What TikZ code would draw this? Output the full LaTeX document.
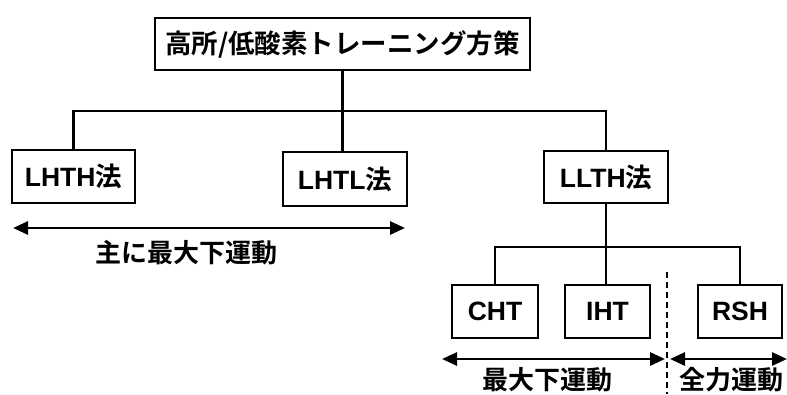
\documentclass[tikz,border=0pt]{standalone}
\usepackage{fontspec}
\setmainfont{Noto Sans CJK JP}[BoldFont={Noto Sans CJK JP Bold}]
\newfontfamily\latinfont{Liberation Sans}
\usetikzlibrary{arrows.meta}
\newcommand{\lt}[1]{{\latinfont\bfseries #1}}
\begin{document}
\begin{tikzpicture}[x=1pt,y=1pt,
  box/.style={draw,line width=2.6pt,rectangle,inner sep=0pt,font=\fontsize{26.5}{26.5}\selectfont\bfseries},
  conn/.style={line width=2.4pt},
  darrow/.style={line width=2.8pt,{Triangle[length=15pt,width=13pt]}-{Triangle[length=15pt,width=13pt]}},
  lbl/.style={font=\fontsize{26}{26}\selectfont\bfseries,inner sep=0pt}]
\fill[white] (0,0) rectangle (787,-394);
\useasboundingbox (0,0) rectangle (787,-394);
\node[box,minimum width=375pt,minimum height=52pt] (top) at (342.5,-44) {高所/低酸素トレーニング方策};
\node[box,minimum width=123pt,minimum height=53pt] (lhth) at (73.5,-176.5) {\lt{LHTH}法};
\node[box,minimum width=124pt,minimum height=54pt] (lhtl) at (345,-179) {\lt{LHTL}法};
\node[box,minimum width=124pt,minimum height=52pt] (llth) at (606,-177) {\lt{LLTH}法};
\node[box,minimum width=86pt,minimum height=53pt] (cht) at (495,-311.5) {\lt{CHT}};
\node[box,minimum width=85pt,minimum height=53pt] (iht) at (607.5,-311.5) {\lt{IHT}};
\node[box,minimum width=84pt,minimum height=53pt] (rsh) at (740,-311.5) {\lt{RSH}};
\coordinate (j1) at (342.5,-111);
\coordinate (j2) at (606,-247);
\draw[conn] (top.south) -- (j1);
\draw[conn] (lhth.north) |- (j1) -| (llth.north);
\draw[conn] (j1) -- (j1 |- lhtl.north);
\draw[conn] (llth.south) -- (j2);
\draw[conn] (cht.north) |- (j2) -| (rsh.north);
\draw[conn] (j2) -- (j2 |- iht.north);
\coordinate (a1) at (13,-228);
\coordinate (a2) at (405,-228);
\coordinate (b1) at (442,-359);
\coordinate (b2) at (665,-359);
\coordinate (c1) at (670,-359);
\coordinate (c2) at (787,-359);
\draw[darrow] (a1) -- (a2);
\draw[darrow] (b1) -- (b2);
\draw[darrow] (c1) -- (c2);
\coordinate (d1) at (667,-272);
\coordinate (d2) at (667,-394);
\draw[line width=1.2pt,dash pattern=on 6pt off 4pt] (d1) -- (d2);
\node[lbl] (t1) at (186,-253) {主に最大下運動};
\node[lbl] (t2) at (547,-380) {最大下運動};
\node[lbl] (t3) at (731,-380) {全力運動};
\end{tikzpicture}
\end{document}
